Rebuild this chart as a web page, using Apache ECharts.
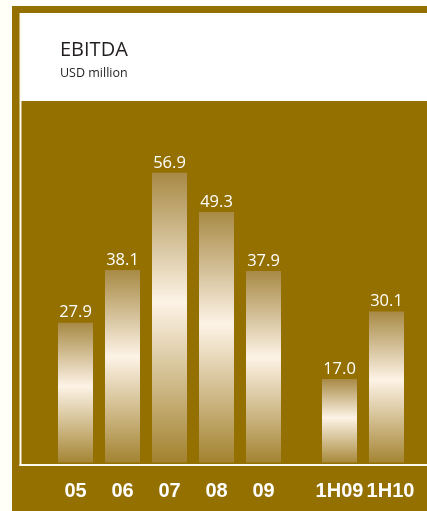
<!DOCTYPE html>
<html>
<head>
<meta charset="utf-8">
<script src="https://cdn.jsdelivr.net/npm/echarts@6/dist/echarts.min.js"></script>
<style>
html,body{margin:0;padding:0;background:#FFFEF7;}
#chart{width:427px;height:511px;}
</style>
</head>
<body>
<div id="chart"></div>
<script>
var years = ['05', '06', '07', '08', '09'];
var yearValues = [27.9, 38.1, 56.9, 49.3, 37.9];
var halfYears = ['1H09', '1H10'];
var halfValues = [17.0, 30.1];

var GOLD = '#937000';
var barGradient = {
  type: 'linear', x: 0, y: 0, x2: 0, y2: 1,
  colorStops: [
    {offset: 0, color: '#A88A45'},
    {offset: 0.44, color: '#FDF3E6'},
    {offset: 1, color: '#A07F2A'}
  ]
};

function makeBarSeries(xi, data) {
  return {
    type: 'bar',
    xAxisIndex: xi,
    yAxisIndex: xi,
    data: data,
    barWidth: 35,
    itemStyle: {color: barGradient},
    label: {
      show: true,
      position: 'top',
      distance: 1.5,
      color: '#FFFFFF',
      fontFamily: 'Open Sans',
      fontSize: 16.5,
      formatter: function (p) { return p.value.toFixed(1); }
    },
    silent: true
  };
}

function makeXAxis(gi, cats, lastShift) {
  return {
    type: 'category',
    gridIndex: gi,
    data: cats,
    axisLine: {show: false},
    axisTick: {show: false},
    axisLabel: {
      color: '#FFFFFF',
      fontFamily: 'Liberation Sans',
      fontWeight: 'bold',
      fontSize: 20,
      margin: 14,
      interval: 0,
      formatter: function (v, i) {
        return (lastShift && i === cats.length - 1) ? '{s|' + v + '}' : v;
      },
      rich: {
        s: {
          color: '#FFFFFF',
          fontFamily: 'Liberation Sans',
          fontWeight: 'bold',
          fontSize: 20,
          padding: [0, 0, 0, 8]
        }
      }
    }
  };
}

function makeYAxis(gi) {
  return {type: 'value', gridIndex: gi, min: 0, max: 60, show: false, splitLine: {show: false}};
}

var chart = echarts.init(document.getElementById('chart'), null, {renderer: 'canvas'});
chart.setOption({
  backgroundColor: 'transparent',
  animation: false,
  title: [
    {text: 'EBITDA', left: 55, top: 35, textStyle: {fontFamily: 'Open Sans', fontSize: 20, fontWeight: 'normal', color: '#231F20'}},
    {text: 'USD million', left: 55, top: 62, textStyle: {fontFamily: 'Open Sans', fontSize: 12.5, fontWeight: 'normal', color: '#231F20'}}
  ],
  grid: [
    {left: 52, right: 140, top: 156.8, bottom: 44},
    {left: 316, right: 17, top: 156.8, bottom: 44}
  ],
  xAxis: [makeXAxis(0, years, false), makeXAxis(1, halfYears, true)],
  yAxis: [makeYAxis(0), makeYAxis(1)],
  series: [makeBarSeries(0, yearValues), makeBarSeries(1, halfValues)],
  graphic: {
    elements: [
      {type: 'rect', z: 0, silent: true, shape: {x: 12, y: 6, width: 415, height: 505}, style: {fill: GOLD}},
      {type: 'rect', z: 0, silent: true, shape: {x: 21, y: 13, width: 406, height: 88}, style: {fill: '#FFFFFF'}},
      {type: 'rect', z: 0, silent: true, shape: {x: 19.5, y: 13, width: 2, height: 453}, style: {fill: '#FDFAF0'}},
      {type: 'rect', z: 100, silent: true, shape: {x: 22, y: 462.5, width: 405, height: 8}, style: {fill: GOLD}},
      {type: 'rect', z: 101, silent: true, shape: {x: 19.5, y: 464, width: 407.5, height: 2}, style: {fill: '#FDFAF0'}}
    ]
  }
});
</script>
</body>
</html>
